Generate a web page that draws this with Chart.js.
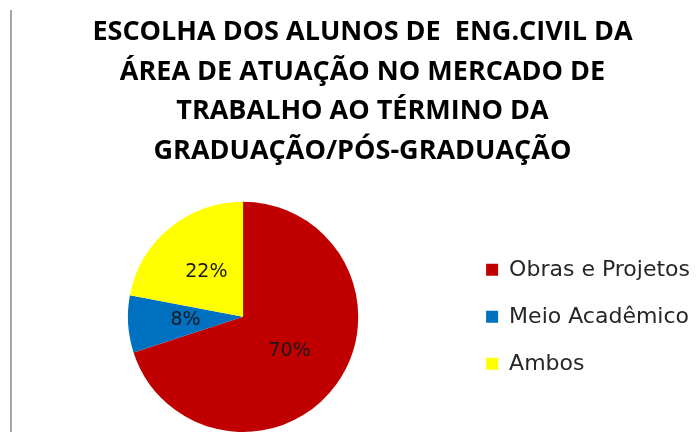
<!DOCTYPE html>
<html>
<head>
<meta charset="utf-8">
<script src="https://cdn.jsdelivr.net/npm/chart.js@4"></script>
<style>
  html, body { margin: 0; padding: 0; background: #fff; }
  #wrap { position: relative; width: 700px; height: 432px; overflow: hidden; }
  #borda { position: absolute; left: 10px; top: 10px; width: 2px; height: 422px; background: #a6a6a6; }
  #grafico { position: absolute; left: 25px; top: 0; }
</style>
</head>
<body>
<div id="wrap">
  <div id="borda"></div>
  <canvas id="grafico" width="675" height="432"></canvas>
</div>
<script>
const categorias = ['Obras e Projetos', 'Meio Acadêmico', 'Ambos'];
const valores = [70, 8, 22];
const cores = ['#C00000', '#0070C0', '#FFFF00'];
const titulo = [
  'ESCOLHA DOS ALUNOS DE  ENG.CIVIL DA',
  'ÁREA DE ATUAÇÃO NO MERCADO DE',
  'TRABALHO AO TÉRMINO DA',
  'GRADUAÇÃO/PÓS-GRADUAÇÃO'
];

// escreve o percentual no meio de cada fatia
const rotulos = {
  id: 'rotulos',
  afterDatasetsDraw(chart) {
    const ctx = chart.ctx;
    const meta = chart.getDatasetMeta(0);
    const total = valores.reduce((a, b) => a + b, 0);
    ctx.save();
    ctx.font = '19px "DejaVu Sans"';
    ctx.fillStyle = '#1a1a1a';
    ctx.textAlign = 'center';
    ctx.textBaseline = 'middle';
    meta.data.forEach((arc, i) => {
      const p = arc.tooltipPosition();
      ctx.fillText(Math.round(valores[i] / total * 100) + '%', p.x, p.y);
    });
    ctx.restore();
  }
};

const ctx = document.getElementById('grafico');

new Chart(ctx, {
  type: 'pie',
  data: {
    labels: categorias,
    datasets: [{
      data: valores,
      backgroundColor: cores,
      borderWidth: 0
    }]
  },
  options: {
    responsive: false,
    animation: false,
    layout: { padding: 0 },
    plugins: {
      title: {
        display: true,
        text: titulo,
        color: '#000',
        font: { family: '"Open Sans"', size: 27, weight: 'bold', lineHeight: 1.46 },
        padding: { top: 13, bottom: 31 }
      },
      legend: {
        position: 'right',
        fullSize: false,
        labels: {
          boxWidth: 12,
          boxHeight: 12,
          padding: 25,
          color: '#262626',
          font: { family: '"DejaVu Sans"', size: 22 }
        }
      },
      tooltip: { enabled: false }
    }
  },
  plugins: [rotulos]
});
</script>
</body>
</html>
